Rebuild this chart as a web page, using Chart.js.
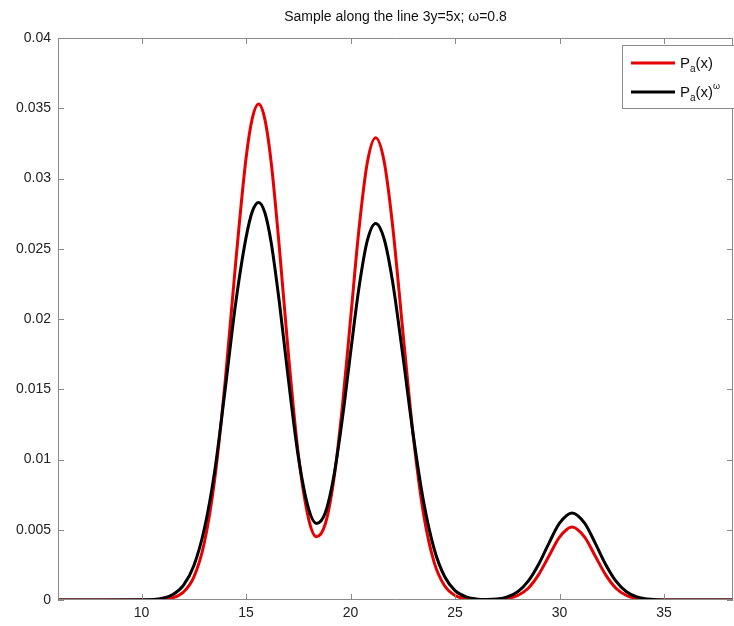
<!DOCTYPE html>
<html>
<head>
<meta charset="utf-8">
<script src="https://cdn.jsdelivr.net/npm/chart.js@4.4.0/dist/chart.umd.min.js"></script>
<style>
  html, body { margin: 0; padding: 0; background: #fff; }
  #wrap { width: 734px; height: 626px; }
</style>
</head>
<body>
<div id="wrap"><canvas id="grafico"></canvas></div>
<script>
const titulo = 'Sample along the line 3y=5x; \u03c9=0.8';

const xValues = [6, 8, 10, 11, 11.5, 12, 12.5, 13, 13.5, 14, 14.5, 15, 15.3, 15.6, 15.9,
  16.2, 16.6, 17, 17.5, 18, 18.37, 18.8, 19.2, 19.6, 20, 20.4, 20.8, 21.2, 21.6, 22,
  22.5, 23, 23.5, 24, 24.5, 25, 25.5, 26, 26.5, 27, 27.5, 28, 28.5, 29, 29.5,
  30, 30.6, 31.2, 31.7, 32.2, 32.7, 33.2, 33.7, 34.2, 34.7, 35.5, 37, 38.3];

// P_a(x)
const paValues = [0, 0, 0, 0.00004, 0.00016, 0.00056, 0.00163, 0.00406, 0.00861, 0.01556,
  0.02397, 0.03146, 0.0343, 0.0353, 0.03421, 0.03116, 0.02496, 0.01794, 0.01036, 0.00572,
  0.0045, 0.00546, 0.0086, 0.01366, 0.02, 0.02636, 0.03112, 0.0329, 0.03126, 0.02681,
  0.01916, 0.01167, 0.00605, 0.00268, 0.00101, 0.00032, 0.00009, 0.00002, 0.00001, 0.00003,
  0.0001, 0.00032, 0.00084, 0.00181, 0.00315, 0.00448, 0.0052, 0.00448, 0.00315, 0.00181,
  0.00084, 0.00032, 0.0001, 0.00003, 0, 0, 0, 0];

// P_a(x)^omega
const paOmegaValues = [0, 0, 0.00001, 0.00013, 0.00039, 0.00104, 0.00244, 0.00505, 0.00919, 0.0150,
  0.0211, 0.02581, 0.02766, 0.0283, 0.02756, 0.02545, 0.0211, 0.016, 0.0102, 0.00645,
  0.00545, 0.00625, 0.00882, 0.01282, 0.0176, 0.0222, 0.02557, 0.0268, 0.02573, 0.02276,
  0.01741, 0.01173, 0.00695, 0.00363, 0.00167, 0.00067, 0.00024, 0.00008, 0.00004, 0.00007,
  0.00022, 0.00059, 0.00134, 0.00255, 0.00407, 0.00547, 0.0062, 0.00547, 0.00407, 0.00255,
  0.00134, 0.00059, 0.00022, 0.00007, 0.00002, 0, 0, 0];

const xTicks = [10, 15, 20, 25, 30, 35];
const yTicks = [0, 0.005, 0.01, 0.015, 0.02, 0.025, 0.03, 0.035, 0.04];

const legendaItens = [
  { cor: '#e60000', partes: [{ t: 'P' }, { t: 'a', sub: true }, { t: '(x)' }] },
  { cor: '#000000', partes: [{ t: 'P' }, { t: 'a', sub: true }, { t: '(x)' }, { t: '\u03c9', sup: true }] }
];

const fonte = '"Liberation Sans", Arial, sans-serif';
const corEixo = '#8a8a8a';

function pontos(valores) {
  return xValues.map((x, i) => ({ x: x, y: valores[i] }));
}

// ticks para dentro + caixa + titulo + legenda
const estiloMatlab = {
  id: 'estiloMatlab',
  afterDatasetsDraw(chart) {
    const ctx = chart.ctx;
    const a = chart.chartArea;
    const sx = chart.scales.x, sy = chart.scales.y;
    ctx.save();
    ctx.strokeStyle = corEixo;
    ctx.lineWidth = 1;
    ctx.beginPath();
    ctx.rect(a.left + 0.5, a.top + 0.5, a.right - a.left - 1, a.bottom - a.top - 1);
    ctx.stroke();
    ctx.beginPath();
    xTicks.forEach(v => {
      const px = Math.round(sx.getPixelForValue(v)) + 0.5;
      ctx.moveTo(px, a.bottom); ctx.lineTo(px, a.bottom - 6);
      ctx.moveTo(px, a.top); ctx.lineTo(px, a.top + 6);
    });
    yTicks.forEach(v => {
      const py = Math.round(sy.getPixelForValue(v)) + 0.5;
      ctx.moveTo(a.left, py); ctx.lineTo(a.left + 6, py);
      ctx.moveTo(a.right, py); ctx.lineTo(a.right - 6, py);
    });
    ctx.stroke();

    // titulo
    ctx.fillStyle = '#111';
    ctx.font = '14px ' + fonte;
    ctx.textAlign = 'center';
    ctx.textBaseline = 'middle';
    ctx.fillText(titulo, (a.left + a.right) / 2, 17);

    // legenda
    const lx = 622, ly = 45;
    ctx.fillStyle = '#fff';
    ctx.fillRect(lx, ly, 130, 63);
    ctx.strokeStyle = corEixo;
    ctx.strokeRect(lx + 0.5, ly + 0.5, 130, 63);
    legendaItens.forEach((item, i) => {
      const yy = ly + 18 + i * 29;
      ctx.strokeStyle = item.cor;
      ctx.lineWidth = 3;
      ctx.beginPath();
      ctx.moveTo(lx + 9, yy); ctx.lineTo(lx + 53, yy);
      ctx.stroke();
      let tx = lx + 58;
      ctx.fillStyle = '#111';
      ctx.textAlign = 'left';
      ctx.textBaseline = 'alphabetic';
      item.partes.forEach(p => {
        let dy = 0;
        if (p.sub) { ctx.font = '10px ' + fonte; dy = 4; }
        else if (p.sup) { ctx.font = '9px ' + fonte; dy = -8; }
        else { ctx.font = '15px ' + fonte; }
        ctx.fillText(p.t, tx, yy + 5 + dy);
        tx += ctx.measureText(p.t).width;
      });
    });
    ctx.restore();
  }
};

document.addEventListener('DOMContentLoaded', function() {
  const ctx = document.getElementById('grafico').getContext('2d');
  new Chart(ctx, {
    type: 'line',
    data: {
      datasets: [{
        label: 'Pa(x)',
        data: pontos(paValues),
        borderColor: '#e60000',
        borderWidth: 3,
        pointRadius: 0,
        cubicInterpolationMode: 'monotone',
        order: 1
      }, {
        label: 'Pa(x)^\u03c9',
        data: pontos(paOmegaValues),
        borderColor: '#000000',
        borderWidth: 3,
        pointRadius: 0,
        cubicInterpolationMode: 'monotone',
        order: 0
      }]
    },
    options: {
      responsive: true,
      maintainAspectRatio: false,
      animation: false,
      events: [],
      layout: { padding: { top: 38, right: 1, left: 0, bottom: 0 } },
      plugins: {
        legend: { display: false },
        title: { display: false },
        tooltip: { enabled: false }
      },
      scales: {
        x: {
          type: 'linear',
          min: 6,
          max: 38.3,
          afterBuildTicks: s => { s.ticks = xTicks.map(v => ({ value: v })); },
          afterFit: s => { s.height = 26; },
          grid: { drawOnChartArea: false, drawTicks: false },
          border: { display: false },
          ticks: {
            padding: 5,
            color: '#222',
            font: { family: fonte, size: 14 },
            maxRotation: 0
          }
        },
        y: {
          min: 0,
          max: 0.04,
          afterBuildTicks: s => { s.ticks = yTicks.map(v => ({ value: v })); },
          afterFit: s => { s.width = 58; },
          grid: { drawOnChartArea: false, drawTicks: false },
          border: { display: false },
          ticks: {
            padding: 7,
            color: '#222',
            font: { family: fonte, size: 14 },
            callback: v => String(Number(v.toFixed(3)))
          }
        }
      }
    },
    plugins: [estiloMatlab]
  });
});
</script>
</body>
</html>
